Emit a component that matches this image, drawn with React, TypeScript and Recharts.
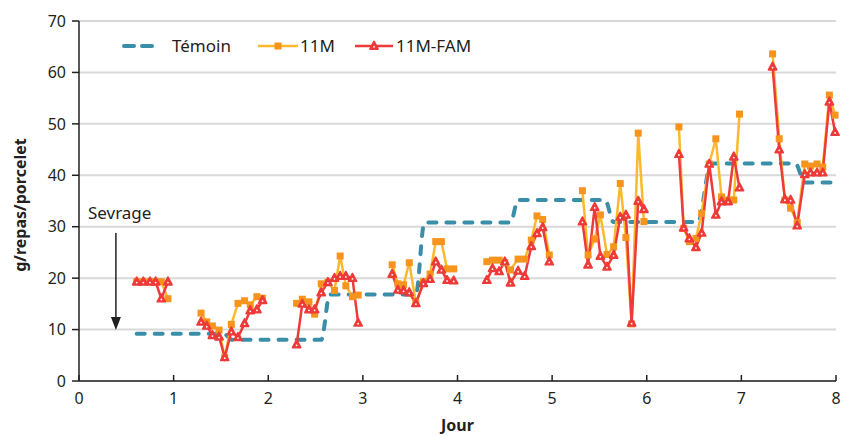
import React from "react";
import {
  LineChart,
  Line,
  XAxis,
  YAxis,
  CartesianGrid,
  Legend,
  ReferenceLine,
  ReferenceDot,
} from "recharts";

// Lecture du graphique : consommation (g/repas/porcelet) selon le jour après sevrage.
// null = pas de mesure (coupure entre deux journées).
const jours = [
  0.61, 0.68, 0.75, 0.81, 0.87, 0.94, 1.1,
  1.29, 1.35, 1.41, 1.48, 1.54, 1.61, 1.68, 1.75, 1.81, 1.88, 1.94, 2.1,
  2.3, 2.36, 2.43, 2.49, 2.56, 2.63, 2.7, 2.76, 2.82, 2.89, 2.95, 3.1,
  3.31, 3.37, 3.43, 3.49, 3.56, 3.64, 3.71, 3.77, 3.83, 3.89, 3.96, 4.1,
  4.31, 4.37, 4.44, 4.5, 4.56, 4.64, 4.71, 4.78, 4.84, 4.9, 4.97, 5.1,
  5.32, 5.38, 5.45, 5.51, 5.58, 5.65, 5.72, 5.78, 5.84, 5.91, 5.97, 6.1,
  6.34, 6.39, 6.45, 6.52, 6.58, 6.66, 6.73, 6.79, 6.86, 6.92, 6.98, 7.1,
  7.33, 7.4, 7.46, 7.52, 7.59, 7.67, 7.73, 7.8, 7.86, 7.93, 7.99,
];

const valeurs11M = [
  19.3, 19.3, 19.3, 19.3, 19.3, 16.0, null,
  13.2, 11.5, 10.7, 9.9, 4.6, 11.0, 15.1, 15.6, 14.8, 16.4, 16.1, null,
  15.1, 15.9, 15.4, 13.0, 18.9, 19.2, 17.6, 24.3, 18.5, 16.4, 16.7, null,
  22.6, 18.9, 18.7, 23.0, 15.2, 19.3, 20.8, 27.1, 27.1, 21.8, 21.8, null,
  23.2, 23.5, 23.5, 23.0, 21.6, 23.7, 23.7, 27.4, 32.1, 31.4, 24.5, null,
  37.0, 24.5, 27.6, 32.3, 24.6, 26.1, 38.4, 27.9, 11.1, 48.2, 31.0, null,
  49.4, 29.7, 27.1, 27.7, 32.6, 42.2, 47.1, 35.8, 35.2, 35.2, 51.9, null,
  63.6, 47.1, 35.2, 33.6, 30.8, 42.2, 41.8, 42.2, 41.6, 55.6, 51.7,
];

const valeursFAM = [
  19.3, 19.3, 19.3, 19.3, 16.0, 19.3, null,
  11.5, 10.7, 8.9, 8.6, 4.6, 9.6, 8.5, 11.2, 13.7, 13.9, 15.7, null,
  7.1, 15.0, 13.9, 13.9, 17.2, 19.2, 20.0, 20.4, 20.4, 20.0, 11.3, null,
  20.8, 17.7, 17.6, 17.2, 15.1, 19.0, 19.8, 23.2, 21.6, 19.6, 19.5, null,
  19.6, 21.9, 21.3, 23.2, 19.1, 21.4, 20.4, 26.2, 28.7, 29.9, 23.2, null,
  31.0, 22.6, 33.8, 24.3, 22.2, 24.5, 31.9, 32.3, 11.3, 35.0, 33.4, null,
  44.1, 29.8, 27.7, 26.0, 28.8, 42.2, 32.3, 34.9, 34.9, 43.6, 37.6, null,
  61.1, 45.0, 35.3, 35.2, 30.2, 40.2, 40.5, 40.5, 40.5, 54.3, 48.4,
];

const temoinJours = [
  0.61, 1.53, 1.62, 2.56, 2.65, 3.56, 3.65, 4.56, 4.64, 5.56, 5.65, 6.54, 6.68, 7.57, 7.67, 8.0,
];
const temoinValeurs = [
  9.2, 9.2, 8.0, 8.0, 16.8, 16.8, 30.8, 30.8, 35.2, 35.2, 30.9, 30.9, 42.3, 42.3, 38.6, 38.6,
];

const xTicks = [0, 1, 2, 3, 4, 5, 6, 7, 8];
const yTicks = [0, 10, 20, 30, 40, 50, 60, 70];

const FONT = "'Noto Sans', 'Open Sans', sans-serif";
const INK = "#231f20";
const TEAL = "#3a8ea8";
const YELLOW = "#fdb92c";
const ORANGE = "#f7941d";
const RED = "#ee3a38";
const GRID = "#d9d9d9";

const data11M = jours.map((x, i) => ({ x, y: valeurs11M[i] }));
const dataFAM = jours.map((x, i) => ({ x, y: valeursFAM[i] }));
const dataTemoin = temoinJours.map((x, i) => ({ x, y: temoinValeurs[i] }));

function renderSquare(props: any) {
  const { cx, cy, index, payload } = props;
  if (cx == null || cy == null || payload?.y == null) return <g key={`sq-${index}`} />;
  return <rect key={`sq-${index}`} x={cx - 3.5} y={cy - 3.5} width={7} height={7} fill={ORANGE} />;
}

function triangle(cx: number, cy: number, key?: string) {
  return (
    <g key={key}>
      <path
        d={`M${cx},${cy - 4.5} L${cx + 4},${cy + 3} L${cx - 4},${cy + 3} Z`}
        fill={RED}
        stroke={RED}
        strokeWidth={1.8}
        strokeLinejoin="round"
      />
      <circle cx={cx} cy={cy + 0.8} r={0.9} fill="#fff" />
    </g>
  );
}

function renderTriangle(props: any) {
  const { cx, cy, index, payload } = props;
  if (cx == null || cy == null || payload?.y == null) return <g key={`tr-${index}`} />;
  return triangle(cx, cy, `tr-${index}`);
}

function XTick({ x, y, payload }: any) {
  return (
    <g>
      <line x1={x} x2={x} y1={y} y2={y - 6} stroke={INK} strokeWidth={1.5} />
      <text x={x} y={y + 23} textAnchor="middle" fill={INK} fontSize={16} fontFamily={FONT}>
        {payload.value}
      </text>
    </g>
  );
}

function YTitle({ viewBox }: any) {
  const cx = viewBox.x + 20;
  const cy = viewBox.y + viewBox.height / 2 + 4;
  return (
    <text
      x={cx}
      y={cy}
      transform={`rotate(-90 ${cx} ${cy})`}
      textAnchor="middle"
      dominantBaseline="central"
      fill={INK}
      fontSize={16}
      fontWeight="bold"
      fontFamily={FONT}
    >
      g/repas/porcelet
    </text>
  );
}

function XTitle({ viewBox }: any) {
  return (
    <text
      x={viewBox.x + viewBox.width / 2}
      y={viewBox.y + 50}
      textAnchor="middle"
      fill={INK}
      fontSize={16}
      fontWeight="bold"
      fontFamily={FONT}
    >
      Jour
    </text>
  );
}

function LegendBox() {
  const label = { position: "absolute" as const, top: 34, fontSize: 17, color: INK, fontFamily: FONT, lineHeight: "24px" };
  return (
    <div style={{ position: "relative", width: 844, height: 60 }}>
      <svg width={844} height={60} style={{ position: "absolute", left: 0, top: 0 }}>
        <line x1={124} x2={158} y1={46} y2={46} stroke={TEAL} strokeWidth={4} strokeDasharray="10 8" strokeLinecap="round" />
        <line x1={258} x2={298} y1={46} y2={46} stroke={YELLOW} strokeWidth={2.5} />
        <rect x={274.5} y={42.5} width={7} height={7} fill={ORANGE} />
        <line x1={355} x2={393} y1={46} y2={46} stroke={RED} strokeWidth={2.5} />
        {triangle(374, 46)}
      </svg>
      <span style={{ ...label, left: 172 }}>Témoin</span>
      <span style={{ ...label, left: 300 }}>11M</span>
      <span style={{ ...label, left: 396 }}>11M-FAM</span>
    </div>
  );
}

export default function App() {
  return (
    <div style={{ position: "absolute", left: 0, top: 0, width: 844, height: 437, background: "#fff" }}>
      <LineChart
        width={844}
        height={437}
        margin={{ top: 21, right: 8, bottom: 6, left: 0 }}
        style={{ fontFamily: FONT }}
      >
        <CartesianGrid horizontal vertical={false} stroke={GRID} strokeWidth={2} />
        <XAxis
          type="number"
          dataKey="x"
          domain={[0, 8]}
          ticks={xTicks}
          height={50}
          tickSize={0}
          tickMargin={0}
          tickLine={false}
          tick={<XTick />}
          axisLine={{ stroke: INK, strokeWidth: 1.5 }}
          label={{ content: XTitle } as any}
        />
        <YAxis
          type="number"
          domain={[0, 70]}
          ticks={yTicks}
          width={79}
          tickSize={7}
          tickMargin={6}
          tick={{ fill: INK, fontSize: 16, fontFamily: FONT }}
          tickLine={{ stroke: INK, strokeWidth: 1.5 }}
          axisLine={{ stroke: INK, strokeWidth: 1.5 }}
          label={{ content: YTitle } as any}
        />
        <Legend
          layout="horizontal"
          verticalAlign="middle"
          content={<LegendBox />}
          wrapperStyle={{ left: 0, top: 0, width: 844, height: 60 }}
        />
        <Line
          data={dataTemoin}
          dataKey="y"
          name="Témoin"
          type="monotone"
          stroke={TEAL}
          strokeWidth={4}
          strokeDasharray="8 10"
          strokeLinecap="round"
          dot={false}
          activeDot={false}
          isAnimationActive={false}
        />
        <Line
          data={data11M}
          dataKey="y"
          name="11M"
          type="linear"
          stroke={YELLOW}
          strokeWidth={2.5}
          dot={renderSquare}
          activeDot={false}
          connectNulls={false}
          isAnimationActive={false}
        />
        <Line
          data={dataFAM}
          dataKey="y"
          name="11M-FAM"
          type="linear"
          stroke={RED}
          strokeWidth={2.5}
          dot={renderTriangle}
          activeDot={false}
          connectNulls={false}
          isAnimationActive={false}
        />
        <ReferenceLine
          segment={[{ x: 0.39, y: 28.8 }, { x: 0.39, y: 12 }]}
          stroke={INK}
          strokeWidth={1.5}
        />
        <ReferenceDot
          x={0.39}
          y={9.9}
          shape={(p: any) => (
            <path d={`M${p.cx},${p.cy} L${p.cx - 5},${p.cy - 13} L${p.cx + 5},${p.cy - 13} Z`} fill={INK} />
          )}
        />
        <ReferenceDot
          x={0.43}
          y={32.7}
          shape={(p: any) => (
            <text x={p.cx} y={p.cy} textAnchor="middle" dominantBaseline="central" fontSize={17} fill={INK} fontFamily={FONT}>
              Sevrage
            </text>
          )}
        />
      </LineChart>
    </div>
  );
}
